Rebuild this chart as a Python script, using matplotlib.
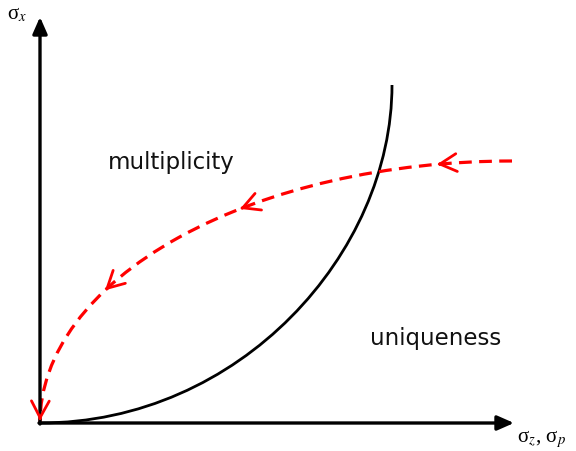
import matplotlib
matplotlib.use('Agg')
import matplotlib.pyplot as plt
import matplotlib.patches as patches
from matplotlib.path import Path
import numpy as np

plt.rcParams['mathtext.fontset'] = 'stix'

# boundary curve (black), cubic bezier control points
curve_pts = [(0, 0), (200, 0), (352, 170), (352, 338)]

# path (red dashed): quarter ellipse from (472, 262) to origin
path_center = (472, 0)
path_a = 472
path_b = 262

# x positions of the arrow tips along the path
arrow_x = [397, 200, 65, 0.02]

fig = plt.figure(figsize=(5.76, 4.51), dpi=100)
ax = fig.add_axes([0, 0, 1, 1])
ax.set_xlim(-40, 536)
ax.set_ylim(-28, 423)
ax.axis('off')

# axes with arrows
axis_arrow = dict(arrowstyle='-|>,head_length=0.5,head_width=0.22', lw=2.4,
                  color='black', mutation_scale=20, shrinkA=0, shrinkB=0)
ax.annotate('', xy=(0, 406), xytext=(0, -1), arrowprops=axis_arrow)
ax.annotate('', xy=(474, 0), xytext=(-1, 0), arrowprops=axis_arrow)

# black boundary
codes = [Path.MOVETO, Path.CURVE4, Path.CURVE4, Path.CURVE4]
ax.add_patch(patches.PathPatch(Path(curve_pts, codes), fill=False,
                               edgecolor='black', lw=2.0))

# red dashed path
arc = patches.Arc(path_center, 2 * path_a, 2 * path_b, theta1=90, theta2=180,
                  edgecolor='#ff0000', lw=2.3, linestyle=(0, (4, 2.3)))
ax.add_patch(arc)

# chevron arrowheads along the path
for x in arrow_x:
    th = np.arccos((x - path_center[0]) / path_a)
    y = path_b * np.sin(th)
    d = np.array([-path_a * np.sin(th), path_b * np.cos(th)])
    d = d / np.hypot(*d)
    ax.annotate('', xy=(x, y), xytext=(x - 3 * d[0], y - 3 * d[1]),
                arrowprops=dict(arrowstyle='->,head_length=0.6,head_width=0.32', lw=2.0,
                                color='#ff0000', mutation_scale=20, shrinkA=0, shrinkB=0))

ax.text(68, 260, 'multiplicity', fontsize=16.5, family='DejaVu Sans',
        ha='left', va='center', color='#111111')
ax.text(330, 85, 'uniqueness', fontsize=16.5, family='DejaVu Sans',
        ha='left', va='center', color='#111111')
ax.text(-33, 408, r'σ$_x$', fontsize=15, family='Liberation Serif', ha='left', va='center')
ax.text(477, -16, r'σ$_z$, σ$_p$', fontsize=15, family='Liberation Serif', ha='left', va='center')

plt.savefig('out.png', dpi=100)
